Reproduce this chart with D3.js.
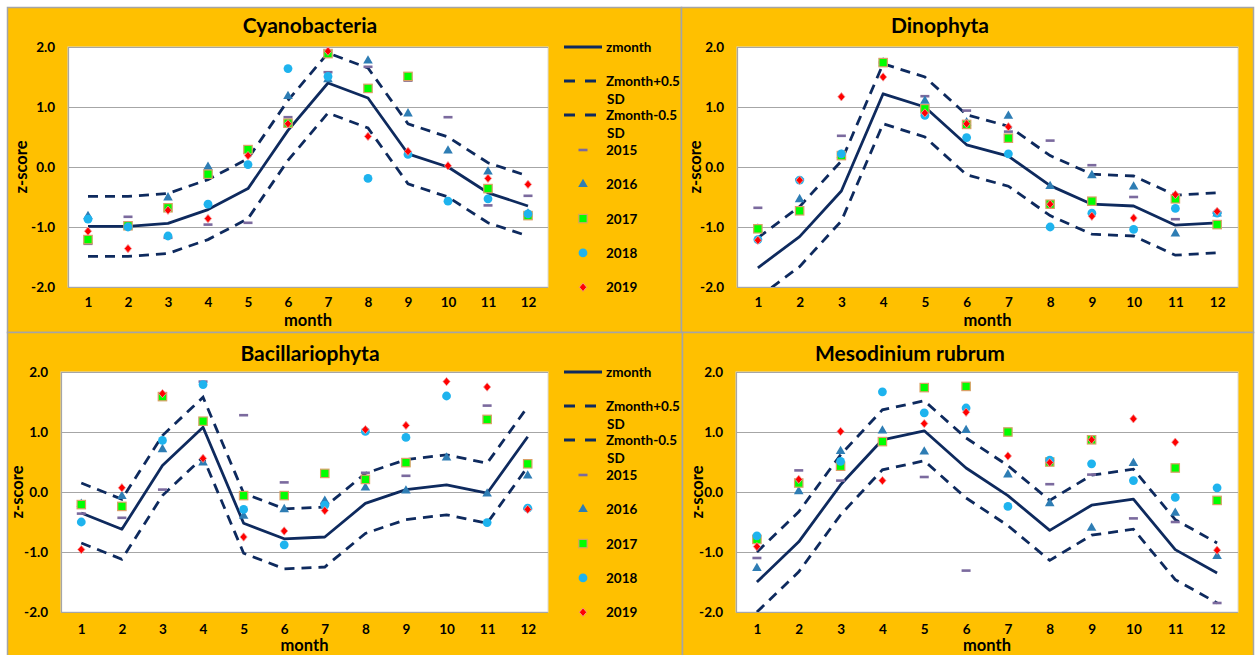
<!DOCTYPE html>
<html>
<head>
<meta charset="utf-8">
<script src="https://cdn.jsdelivr.net/npm/d3@7"></script>
<style>
  body { margin: 0; background: #fff; }
  svg { display: block; }
  text { font-family: Lato, "Open Sans", sans-serif; fill: #000; }
</style>
</head>
<body>
<svg id="chart" width="1259" height="655"></svg>
<script>
// ---- shared categories and tick values ----
const months = [1, 2, 3, 4, 5, 6, 7, 8, 9, 10, 11, 12];
const yTicks = [-2, -1, 0, 1, 2];
const years = ["2015", "2016", "2017", "2018", "2019"];
const lineLabels = ["zmonth", ["Zmonth+0.5", "SD"], ["Zmonth-0.5", "SD"]];

// ---- Cyanobacteria ----
const cyanoZ  = [-0.99, -0.99, -0.94, -0.71, -0.36, 0.61, 1.40, 1.15, 0.22, 0.00, -0.43, -0.65];
const cyanoUp = [-0.49, -0.49, -0.44, -0.21, 0.14, 1.11, 1.90, 1.65, 0.72, 0.50, 0.07, -0.15];
const cyanoLo = [-1.49, -1.49, -1.44, -1.21, -0.86, 0.11, 0.90, 0.65, -0.28, -0.50, -0.93, -1.15];
const cyano2015 = [-1.28, -0.83, -1.18, -0.96, -0.93, 0.83, 1.58, 1.67, 1.44, 0.83, -0.64, -0.48];
const cyano2016 = [-0.82, -0.99, -0.51, 0.00, 0.27, 1.18, 1.46, 1.77, 0.89, 0.27, -0.08, -0.78];
const cyano2017 = [-1.21, -0.98, -0.68, -0.12, 0.29, 0.73, 1.89, 1.31, 1.51, null, -0.36, -0.81];
const cyano2018 = [-0.87, -1.00, -1.15, -0.62, 0.04, 1.64, 1.51, -0.19, 0.21, -0.57, -0.53, -0.78];
const cyano2019 = [-1.07, -1.36, -0.72, -0.86, 0.19, 0.72, 1.93, 0.51, 0.26, 0.02, -0.19, -0.29];

// ---- Dinophyta ----
const dinoZ  = [-1.68, -1.16, -0.40, 1.22, 1.00, 0.37, 0.18, -0.31, -0.62, -0.65, -0.97, -0.93];
const dinoUp = [-1.18, -0.66, 0.10, 1.72, 1.50, 0.87, 0.68, 0.19, -0.12, -0.15, -0.47, -0.43];
const dinoLo = [-2.18, -1.66, -0.90, 0.72, 0.50, -0.13, -0.32, -0.81, -1.12, -1.15, -1.47, -1.43];
const dino2015 = [-0.68, -0.21, 0.52, 1.74, 1.18, 0.94, 0.59, 0.44, 0.03, -0.50, -0.87, -0.76];
const dino2016 = [-1.03, -0.54, 0.20, 1.74, 1.10, 0.74, 0.85, -0.32, -0.14, -0.33, -1.11, -0.78];
const dino2017 = [-1.03, -0.73, 0.19, 1.74, 0.97, 0.71, 0.48, -0.62, -0.57, null, -0.53, -0.96];
const dino2018 = [-1.21, -0.22, 0.22, null, 0.86, 0.49, 0.22, -1.00, -0.77, -1.04, -0.69, -0.77];
const dino2019 = [-1.22, -0.22, 1.17, 1.50, 0.90, 0.72, 0.67, -0.62, -0.82, -0.85, -0.46, -0.74];

// ---- Bacillariophyta ----
const bacZ  = [-0.35, -0.62, 0.44, 1.08, -0.52, -0.78, -0.75, -0.19, 0.04, 0.12, -0.02, 0.92];
const bacUp = [0.15, -0.12, 0.94, 1.58, -0.02, -0.28, -0.25, 0.31, 0.54, 0.62, 0.48, 1.42];
const bacLo = [-0.85, -1.12, -0.06, 0.58, -1.02, -1.28, -1.25, -0.69, -0.46, -0.38, -0.52, 0.42];
const bac2015 = [-0.36, -0.43, 0.04, 1.84, 1.28, 0.16, -0.20, 0.32, 0.27, null, 1.44, -0.28];
const bac2016 = [-0.20, -0.07, 0.71, 0.49, -0.40, -0.29, -0.15, 0.07, 0.02, 0.57, -0.03, 0.27];
const bac2017 = [-0.21, -0.24, 1.59, 1.18, -0.06, -0.06, 0.31, 0.21, 0.49, null, 1.21, 0.47];
const bac2018 = [-0.50, null, 0.86, 1.79, -0.29, -0.88, -0.22, 1.01, 0.91, 1.60, -0.51, -0.27];
const bac2019 = [-0.96, 0.07, 1.64, 0.56, -0.75, -0.65, -0.31, 1.04, 1.11, 1.84, 1.75, -0.29];

// ---- Mesodinium rubrum ----
const mesoZ  = [-1.50, -0.83, 0.12, 0.87, 1.02, 0.40, -0.06, -0.64, -0.22, -0.12, -0.96, -1.35];
const mesoUp = [-1.00, -0.33, 0.62, 1.37, 1.52, 0.90, 0.44, -0.14, 0.28, 0.38, -0.46, -0.85];
const mesoLo = [-2.00, -1.33, -0.38, 0.37, 0.52, -0.10, -0.56, -1.14, -0.72, -0.62, -1.46, -1.85];
const meso2015 = [-1.10, 0.36, 0.19, null, 0.25, -1.31, null, 0.13, 0.29, -0.44, -0.50, -1.85];
const meso2016 = [-1.27, 0.01, 0.68, 1.02, 0.67, 1.03, 0.29, -0.19, -0.60, 0.48, -0.35, -1.07];
const meso2017 = [-0.79, 0.15, 0.43, 0.84, 1.74, 1.76, 1.00, 0.50, 0.87, null, 0.40, -0.14];
const meso2018 = [-0.73, null, 0.51, 1.67, 1.32, 1.40, -0.24, 0.53, 0.47, 0.19, -0.09, 0.07];
const meso2019 = [-0.91, 0.21, 1.01, 0.19, 1.14, 1.33, 0.60, 0.49, 0.87, 1.22, 0.83, -0.97];

// ---- styling ----
const ORANGE = "#FFC000";
const NAVY = "#0E2A5E";
const GRID = "#A6A6A6";
const markerStyle = {
  "2015": { shape: "dash", fill: "#7B6A9E" },
  "2016": { shape: "triangle", fill: "#2E7DB4" },
  "2017": { shape: "square", fill: "#00FF00", stroke: "#D9A066" },
  "2018": { shape: "circle", fill: "#1EB3EE" },
  "2019": { shape: "diamond", fill: "#FF0000", stroke: "#F2A0A0" }
};

const panels = [
  { id: "p1", title: "Cyanobacteria", box: [7, 7, 674, 325], plot: [68, 47, 548, 287],
    titleX: 310, titleY: 33, ylabX: 21, xTickGap: 18, monthGap: 33, legend: true,
    z: cyanoZ, up: cyanoUp, lo: cyanoLo, pts: [cyano2015, cyano2016, cyano2017, cyano2018, cyano2019] },
  { id: "p2", title: "Dinophyta", box: [681, 7, 572, 325], plot: [737, 47, 1238, 287],
    titleX: 940, titleY: 33, ylabX: 695, xTickGap: 18, monthGap: 33, legend: false,
    z: dinoZ, up: dinoUp, lo: dinoLo, pts: [dino2015, dino2016, dino2017, dino2018, dino2019] },
  { id: "p3", title: "Bacillariophyta", box: [7, 332, 675, 330], plot: [61, 372, 548, 612],
    titleX: 310, titleY: 361, ylabX: 17, xTickGap: 20, monthGap: 33, legend: true,
    z: bacZ, up: bacUp, lo: bacLo, pts: [bac2015, bac2016, bac2017, bac2018, bac2019] },
  { id: "p4", title: "Mesodinium rubrum", box: [682, 332, 571, 330], plot: [736, 372, 1238, 612],
    titleX: 910, titleY: 361, ylabX: 697, xTickGap: 20, monthGap: 33, legend: false,
    z: mesoZ, up: mesoUp, lo: mesoLo, pts: [meso2015, meso2016, meso2017, meso2018, meso2019] }
];

const svg = d3.select("#chart");
const defs = svg.append("defs");

function drawMarker(g, style, x, y) {
  switch (style.shape) {
    case "dash":
      g.append("rect").attr("x", x - 4.5).attr("y", y - 1.3).attr("width", 9).attr("height", 2.6)
        .attr("fill", style.fill);
      break;
    case "triangle":
      g.append("path").attr("d", d3.symbol(d3.symbolTriangle, 40)()).attr("transform", `translate(${x},${y})`)
        .attr("fill", style.fill);
      break;
    case "square":
      g.append("rect").attr("x", x - 4.2).attr("y", y - 4.2).attr("width", 8.4).attr("height", 8.4)
        .attr("fill", style.fill).attr("stroke", style.stroke).attr("stroke-width", 1.2);
      break;
    case "circle":
      g.append("circle").attr("cx", x).attr("cy", y).attr("r", 4.4).attr("fill", style.fill);
      break;
    case "diamond":
      g.append("path").attr("d", `M${x},${y - 4.2}L${x + 3.6},${y}L${x},${y + 4.2}L${x - 3.6},${y}Z`)
        .attr("fill", style.fill).attr("stroke", style.stroke).attr("stroke-width", 0.8);
      break;
  }
}

panels.forEach(p => {
  const [bx, by, bw, bh] = p.box;
  const [pl, pt, pr, pb] = p.plot;

  // panel background and frame
  svg.append("rect").attr("x", bx + 0.5).attr("y", by + 0.5).attr("width", bw).attr("height", bh)
    .attr("fill", ORANGE).attr("stroke", "#A5A5A5").attr("stroke-width", 1.5);

  const g = svg.append("g");

  const x = d3.scalePoint().domain(months).range([pl, pr]).padding(0.5);
  const y = d3.scaleLinear().domain([-2, 2]).range([pb, pt]);

  // plot area
  g.append("rect").attr("x", pl).attr("y", pt).attr("width", pr - pl).attr("height", pb - pt)
    .attr("fill", "#fff").attr("stroke", "#D9D9D9").attr("stroke-width", 1);

  // gridlines
  g.append("g").selectAll("line").data(yTicks).join("line")
    .attr("x1", pl).attr("x2", pr)
    .attr("y1", d => Math.round(y(d)) + 0.5).attr("y2", d => Math.round(y(d)) + 0.5)
    .attr("stroke", GRID).attr("stroke-width", 1.2);
  g.append("line").attr("x1", pl + 0.5).attr("x2", pl + 0.5).attr("y1", pt).attr("y2", pb)
    .attr("stroke", GRID).attr("stroke-width", 1.2);

  // axes
  const yAxis = d3.axisLeft(y).tickValues(yTicks).tickSize(0).tickPadding(13)
    .tickFormat(d => d.toFixed(1));
  const ya = g.append("g").attr("transform", `translate(${pl},0)`).call(yAxis);
  ya.select(".domain").remove();
  ya.selectAll("text").attr("font-size", 13.5).attr("font-family", "Lato, sans-serif")
    .attr("font-weight", "bold").attr("fill", "#000");

  const xAxis = d3.axisBottom(x).tickSize(0).tickPadding(p.xTickGap - 8);
  const xa = g.append("g").attr("transform", `translate(0,${pb})`).call(xAxis);
  xa.select(".domain").remove();
  xa.selectAll("text").attr("font-size", 13.5).attr("font-family", "Lato, sans-serif")
    .attr("font-weight", "bold").attr("fill", "#000");

  // axis titles
  g.append("text").attr("x", (pl + pr) / 2).attr("y", pb + p.monthGap)
    .attr("text-anchor", "middle").attr("dominant-baseline", "central")
    .attr("font-size", 16.5).attr("font-weight", "bold").text("month");
  g.append("text").attr("transform", `translate(${p.ylabX},${(pt + pb) / 2}) rotate(-90)`)
    .attr("text-anchor", "middle").attr("dominant-baseline", "central")
    .attr("font-size", 16.5).attr("font-weight", "bold").text("z-score");

  // chart title
  g.append("text").attr("x", p.titleX).attr("y", p.titleY).attr("text-anchor", "middle")
    .attr("font-size", 21).attr("font-weight", "bold").text(p.title);

  // clip region for the lines
  defs.append("clipPath").attr("id", "clip-" + p.id)
    .append("rect").attr("x", pl).attr("y", pt).attr("width", pr - pl).attr("height", pb - pt);

  const line = d3.line().x((d, i) => x(months[i])).y(d => y(d));
  const lg = g.append("g").attr("clip-path", `url(#clip-${p.id})`);
  lg.append("path").datum(p.z).attr("d", line).attr("fill", "none")
    .attr("stroke", NAVY).attr("stroke-width", 2.8).attr("stroke-linejoin", "round");
  [p.up, p.lo].forEach(arr => {
    lg.append("path").datum(arr).attr("d", line).attr("fill", "none")
      .attr("stroke", NAVY).attr("stroke-width", 2.8).attr("stroke-dasharray", "10,7");
  });

  // yearly points, later years drawn on top
  const mg = g.append("g");
  p.pts.forEach((arr, k) => {
    const st = markerStyle[years[k]];
    arr.forEach((v, i) => {
      if (v === null) return;
      drawMarker(mg, st, x(months[i]), y(v));
    });
  });

  // legend
  if (p.legend) {
    const lgd = g.append("g");
    const lx0 = 564, lx1 = 602, tx = 606, mx = 583;
    const lineRows = [0, 34, 68];
    lineRows.forEach((off, k) => {
      const yy = pt + off;
      lgd.append("line").attr("x1", lx0).attr("x2", lx1).attr("y1", yy).attr("y2", yy)
        .attr("stroke", NAVY).attr("stroke-width", 2.8)
        .attr("stroke-dasharray", k === 0 ? null : "11,10");
      const lab = lineLabels[k];
      const lines = Array.isArray(lab) ? lab : [lab];
      lines.forEach((s, j) => {
        lgd.append("text").attr("x", tx + (j > 0 ? 1 : 0)).attr("y", yy + j * 17.5)
          .attr("dominant-baseline", "central").attr("font-size", 13.5).attr("font-weight", "bold").text(s);
      });
    });
    years.forEach((yr, k) => {
      const yy = pt + 103 + k * 34.3;
      drawMarker(lgd, markerStyle[yr], mx, yy);
      lgd.append("text").attr("x", tx).attr("y", yy).attr("dominant-baseline", "central")
        .attr("font-size", 13.5).attr("font-weight", "bold").text(yr);
    });
  }
});
</script>
</body>
</html>
